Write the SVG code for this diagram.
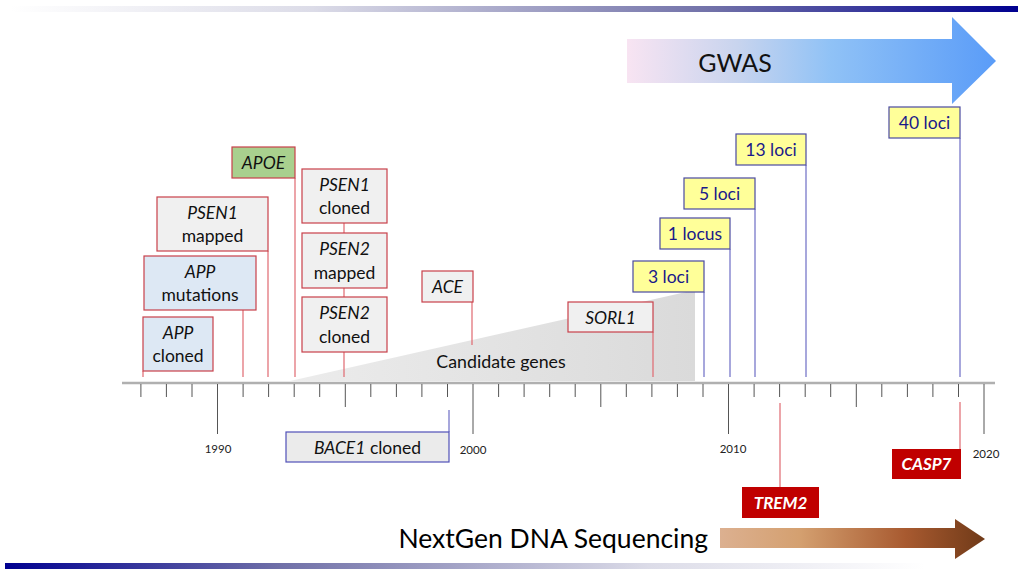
<svg xmlns="http://www.w3.org/2000/svg" width="1024" height="576" viewBox="0 0 1024 576">
<defs>
<linearGradient id="gTop" x1="0" y1="0" x2="1" y2="0"><stop offset="0" stop-color="#ffffff"/><stop offset="0.3" stop-color="#dcdce8"/><stop offset="0.7" stop-color="#7070a8"/><stop offset="1" stop-color="#000090"/></linearGradient>
<linearGradient id="gBot" x1="0" y1="0" x2="1" y2="0"><stop offset="0" stop-color="#000090"/><stop offset="0.3" stop-color="#7070a8"/><stop offset="0.7" stop-color="#dcdce8"/><stop offset="1" stop-color="#ffffff"/></linearGradient>
<linearGradient id="gGwas" x1="627" y1="0" x2="996" y2="0" gradientUnits="userSpaceOnUse"><stop offset="0" stop-color="#f8e4f2"/><stop offset="0.3" stop-color="#c8d4ee"/><stop offset="0.55" stop-color="#90c2f6"/><stop offset="1" stop-color="#5a9cf8"/></linearGradient>
<linearGradient id="gNgs" x1="720" y1="0" x2="985" y2="0" gradientUnits="userSpaceOnUse"><stop offset="0" stop-color="#dcb090"/><stop offset="0.3" stop-color="#d4a070"/><stop offset="0.7" stop-color="#a85a30"/><stop offset="1" stop-color="#703a18"/></linearGradient>
<linearGradient id="gCand" x1="290" y1="0" x2="695" y2="0" gradientUnits="userSpaceOnUse"><stop offset="0" stop-color="#ececec"/><stop offset="1" stop-color="#dadada"/></linearGradient>
</defs>
<style>
text{font-family:Lato,"Open Sans","Liberation Sans",sans-serif;}
.gene rect{fill:#f0f0f0;stroke:#c8404a;stroke-width:1.2;}
.gene.blue rect{fill:#dde8f4;}
.gene.green rect{fill:#a9d08e;}
.gene text{font-size:17.5px;fill:#111;text-anchor:middle;}
.it{font-style:italic;}
.loci rect{fill:#ffff99;stroke:#4a4aa0;stroke-width:1.2;}
.loci text{font-size:17.5px;fill:#1a1a8a;text-anchor:middle;}
.hit rect{fill:#c00000;}
.hit text{font-size:17px;fill:#fff;font-weight:bold;font-style:italic;text-anchor:middle;}
.rl{stroke:#e06870;stroke-width:1.2;fill:none;}
.bl{stroke:#8a8ad0;stroke-width:1.5;fill:none;}
.tick{stroke:#555;stroke-width:1;}
.yr{font-size:11.5px;fill:#222;text-anchor:middle;}
</style>
<rect x="10" y="6" width="1008" height="6" fill="url(#gTop)"/>
<rect x="5" y="563" width="920" height="6" fill="url(#gBot)"/>
<g id="gwas-arrow">
<polygon points="627,39 952,39 952,17 996,61 952,104 952,83 627,83" fill="url(#gGwas)"/>
<text x="735" y="72" font-size="25" fill="#111" text-anchor="middle">GWAS</text>
</g>
<g id="ngs-arrow">
<polygon points="720,528 955,528 955,519 985,539 955,559 955,548 720,548" fill="url(#gNgs)"/>
<text x="708" y="548" font-size="26.5" fill="#000" text-anchor="end">NextGen DNA Sequencing</text>
</g>
<g id="candidate-genes">
<polygon points="290,381 695,290 695,381" fill="url(#gCand)"/>
<text x="501" y="368" font-size="17.8" fill="#111" text-anchor="middle">Candidate genes</text>
</g>
<g id="connectors">
<line class="rl" x1="143" y1="371" x2="143" y2="377"/>
<line class="rl" x1="243" y1="310" x2="243" y2="377"/>
<line class="rl" x1="268" y1="251" x2="268" y2="377"/>
<line class="rl" x1="295" y1="178" x2="295" y2="377"/>
<line class="rl" x1="344" y1="223" x2="344" y2="377"/>
<line class="rl" x1="472" y1="302" x2="472" y2="345"/>
<line class="rl" x1="653" y1="332" x2="653" y2="377"/>
<line class="bl" x1="704" y1="292" x2="704" y2="377"/>
<line class="bl" x1="730" y1="249" x2="730" y2="377"/>
<line class="bl" x1="755" y1="209" x2="755" y2="377"/>
<line class="bl" x1="806" y1="165" x2="806" y2="377"/>
<line class="bl" x1="960" y1="138" x2="960" y2="377"/>
<line class="bl" x1="449" y1="410" x2="449" y2="432"/>
<line class="rl" x1="780" y1="403" x2="780" y2="487"/>
<line class="rl" x1="960" y1="402" x2="960" y2="449"/>
</g>
<g id="timeline">
<line x1="122" y1="383" x2="995" y2="383" stroke="#b0b0b0" stroke-width="2.5"/>
<line class="tick" x1="140.9" y1="384" x2="140.9" y2="397"/>
<line class="tick" x1="166.4" y1="384" x2="166.4" y2="397"/>
<line class="tick" x1="192" y1="384" x2="192" y2="397"/>
<line class="tick" x1="217.5" y1="384" x2="217.5" y2="434"/>
<line class="tick" x1="243.1" y1="384" x2="243.1" y2="397"/>
<line class="tick" x1="268.6" y1="384" x2="268.6" y2="397"/>
<line class="tick" x1="294.2" y1="384" x2="294.2" y2="397"/>
<line class="tick" x1="319.7" y1="384" x2="319.7" y2="397"/>
<line class="tick" x1="345.3" y1="384" x2="345.3" y2="407"/>
<line class="tick" x1="370.8" y1="384" x2="370.8" y2="397"/>
<line class="tick" x1="396.4" y1="384" x2="396.4" y2="397"/>
<line class="tick" x1="421.9" y1="384" x2="421.9" y2="397"/>
<line class="tick" x1="447.5" y1="384" x2="447.5" y2="397"/>
<line class="tick" x1="473" y1="384" x2="473" y2="434"/>
<line class="tick" x1="498.6" y1="384" x2="498.6" y2="397"/>
<line class="tick" x1="524.1" y1="384" x2="524.1" y2="397"/>
<line class="tick" x1="549.7" y1="384" x2="549.7" y2="397"/>
<line class="tick" x1="575.2" y1="384" x2="575.2" y2="397"/>
<line class="tick" x1="600.8" y1="384" x2="600.8" y2="407"/>
<line class="tick" x1="626.3" y1="384" x2="626.3" y2="397"/>
<line class="tick" x1="651.9" y1="384" x2="651.9" y2="397"/>
<line class="tick" x1="677.4" y1="384" x2="677.4" y2="397"/>
<line class="tick" x1="703" y1="384" x2="703" y2="397"/>
<line class="tick" x1="728.5" y1="384" x2="728.5" y2="434"/>
<line class="tick" x1="754.1" y1="384" x2="754.1" y2="397"/>
<line class="tick" x1="779.6" y1="384" x2="779.6" y2="397"/>
<line class="tick" x1="805.2" y1="384" x2="805.2" y2="397"/>
<line class="tick" x1="830.7" y1="384" x2="830.7" y2="397"/>
<line class="tick" x1="856.3" y1="384" x2="856.3" y2="407"/>
<line class="tick" x1="881.8" y1="384" x2="881.8" y2="397"/>
<line class="tick" x1="907.4" y1="384" x2="907.4" y2="397"/>
<line class="tick" x1="932.9" y1="384" x2="932.9" y2="397"/>
<line class="tick" x1="958.5" y1="384" x2="958.5" y2="397"/>
<line class="tick" x1="984" y1="384" x2="984" y2="434"/>
<text class="yr" x="218" y="453">1990</text>
<text class="yr" x="473" y="454">2000</text>
<text class="yr" x="733" y="453">2010</text>
<text class="yr" x="986" y="458">2020</text>
</g>
<g id="apoe" class="gene green"><rect x="232" y="147" width="63" height="31"/><text class="it" x="263.5" y="168.5">APOE</text></g>
<g id="psen1-mapped" class="gene"><rect x="157" y="197" width="111" height="54"/><text class="it" x="212.5" y="218.5">PSEN1</text><text x="212.5" y="242">mapped</text></g>
<g id="app-mutations" class="gene blue"><rect x="144" y="256" width="112" height="54"/><text class="it" x="200" y="277.5">APP</text><text x="200" y="301">mutations</text></g>
<g id="app-cloned" class="gene blue"><rect x="143" y="317" width="70" height="54"/><text class="it" x="178" y="338.5">APP</text><text x="178" y="362">cloned</text></g>
<g id="psen1-cloned" class="gene"><rect x="302" y="169" width="85" height="54"/><text class="it" x="344.5" y="190.5">PSEN1</text><text x="344.5" y="214">cloned</text></g>
<g id="psen2-mapped" class="gene"><rect x="302" y="233" width="85" height="55"/><text class="it" x="344.5" y="254.5">PSEN2</text><text x="344.5" y="279">mapped</text></g>
<g id="psen2-cloned" class="gene"><rect x="302" y="297" width="85" height="55"/><text class="it" x="344.5" y="318.5">PSEN2</text><text x="344.5" y="343">cloned</text></g>
<g id="ace" class="gene"><rect x="422" y="271" width="51" height="31"/><text class="it" x="447.5" y="292.5">ACE</text></g>
<g id="sorl1" class="gene"><rect x="568" y="302" width="85" height="30"/><text class="it" x="610.5" y="323.5">SORL1</text></g>
<g id="bace1" class="gene"><rect x="286" y="432" width="163" height="30" style="fill:#ebebeb;stroke:#5050b8"/><text x="367.5" y="454" font-size="18"><tspan class="it">BACE1</tspan> cloned</text></g>
<g id="loci-3" class="loci"><rect x="633" y="261" width="71" height="31"/><text x="668.5" y="282.5">3 loci</text></g>
<g id="locus-1" class="loci"><rect x="660" y="218" width="70" height="31"/><text x="695" y="239.5">1 locus</text></g>
<g id="loci-5" class="loci"><rect x="684" y="178" width="71" height="31"/><text x="719.5" y="199.5">5 loci</text></g>
<g id="loci-13" class="loci"><rect x="736" y="134" width="70" height="31"/><text x="771" y="155.5">13 loci</text></g>
<g id="loci-40" class="loci"><rect x="889" y="107" width="71" height="31"/><text x="924.5" y="128.5">40 loci</text></g>
<g id="trem2" class="hit"><rect x="742" y="487" width="77" height="31"/><text x="780.5" y="508.5">TREM2</text></g>
<g id="casp7" class="hit"><rect x="892" y="449" width="69" height="30"/><text x="926.5" y="470">CASP7</text></g>
</svg>
